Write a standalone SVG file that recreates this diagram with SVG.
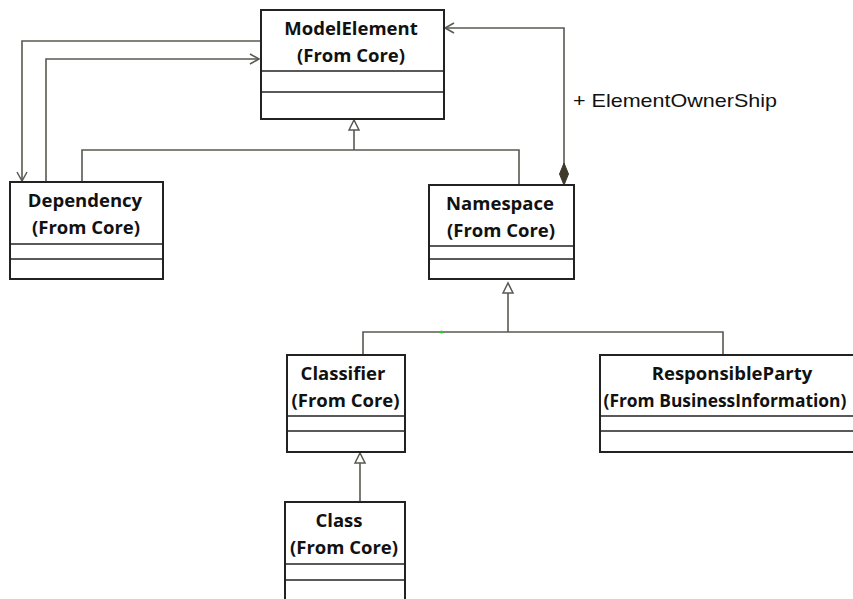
<svg xmlns="http://www.w3.org/2000/svg" width="853" height="599" viewBox="0 0 853 599">
<style>
.box{fill:#fff;stroke:#222;stroke-width:2}
.div{stroke:#222;stroke-width:1.6}
.t{font-family:"Open Sans","Noto Sans",sans-serif;font-weight:bold;font-size:18.5px;fill:#111;text-anchor:middle}
.c{fill:none;stroke:#5a5850;stroke-width:1.6}
.lbl{font-family:"Liberation Sans",Arial,sans-serif;font-size:19px;fill:#111}
</style>
<defs>
<marker id="open" markerUnits="userSpaceOnUse" markerWidth="12" markerHeight="12" refX="9" refY="5" orient="auto" overflow="visible">
<path d="M0,0 L9,5 L0,10" fill="none" stroke="#5a5850" stroke-width="1.5"/>
</marker>
<marker id="tri" markerUnits="userSpaceOnUse" markerWidth="12" markerHeight="12" refX="10" refY="5" orient="auto" overflow="visible">
<path d="M0,0 L10,5 L0,10 Z" fill="#fff" stroke="#5a5850" stroke-width="1.5"/>
</marker>
<marker id="dia" markerUnits="userSpaceOnUse" markerWidth="24" markerHeight="12" refX="0" refY="4.5" orient="auto" overflow="visible">
<path d="M0,4.5 L11,0 L22,4.5 L11,9 Z" fill="#3f3a2c" stroke="#3f3a2c" stroke-width="1"/>
</marker>
</defs>

<g id="connectors">
<path class="c" d="M260,41 H22 V181" marker-end="url(#open)"/>
<path class="c" d="M46,182 V59 H259" marker-end="url(#open)"/>
<path class="c" d="M82,182 V150 H519 V185"/>
<path class="c" d="M354,150 V120" marker-end="url(#tri)"/>
<path class="c" d="M564,185 V28 H445" marker-start="url(#dia)" marker-end="url(#open)"/>
<path class="c" d="M363,354 V332 H723 V354"/>
<path class="c" d="M508,332 V283" marker-end="url(#tri)"/>
<path class="c" d="M360,502 V453" marker-end="url(#tri)"/>
<circle cx="441.5" cy="332" r="1.6" fill="#22cc22"/>
<text class="lbl" x="573" y="106.5" textLength="204" lengthAdjust="spacingAndGlyphs">+ ElementOwnerShip</text>
</g>

<g id="ModelElement">
<rect class="box" x="261" y="10" width="183" height="109"/>
<line class="div" x1="261" y1="71" x2="444" y2="71"/>
<line class="div" x1="261" y1="92" x2="444" y2="92"/>
<text class="t" x="351" y="34.5">ModelElement</text>
<text class="t" x="351" y="61.5">(From Core)</text>
</g>

<g id="Dependency">
<rect class="box" x="10" y="182" width="153" height="97"/>
<line class="div" x1="10" y1="244" x2="163" y2="244"/>
<line class="div" x1="10" y1="259" x2="163" y2="259"/>
<text class="t" x="85" y="206.5">Dependency</text>
<text class="t" x="86" y="233.5">(From Core)</text>
</g>

<g id="Namespace">
<rect class="box" x="429" y="185" width="145" height="94"/>
<line class="div" x1="429" y1="246" x2="574" y2="246"/>
<line class="div" x1="429" y1="259" x2="574" y2="259"/>
<text class="t" x="500" y="209.5">Namespace</text>
<text class="t" x="501" y="236.5">(From Core)</text>
</g>

<g id="Classifier">
<rect class="box" x="287" y="355" width="118" height="97"/>
<line class="div" x1="287" y1="416" x2="405" y2="416"/>
<line class="div" x1="287" y1="431" x2="405" y2="431"/>
<text class="t" x="343" y="379.5">Classifier</text>
<text class="t" x="345.5" y="406.5">(From Core)</text>
</g>

<g id="Class">
<rect class="box" x="285" y="502" width="120" height="110"/>
<line class="div" x1="285" y1="564" x2="405" y2="564"/>
<line class="div" x1="285" y1="580" x2="405" y2="580"/>
<text class="t" x="339" y="526.5">Class</text>
<text class="t" x="344" y="553.5">(From Core)</text>
</g>

<g id="ResponsibleParty">
<rect class="box" x="600" y="355" width="270" height="97"/>
<line class="div" x1="600" y1="416" x2="870" y2="416"/>
<line class="div" x1="600" y1="431" x2="870" y2="431"/>
<text class="t" x="732" y="379.5">ResponsibleParty</text>
<text class="t" x="603.5" y="406.5" style="text-anchor:start;font-size:17.4px">(From BusinessInformation)</text>
</g>
</svg>
